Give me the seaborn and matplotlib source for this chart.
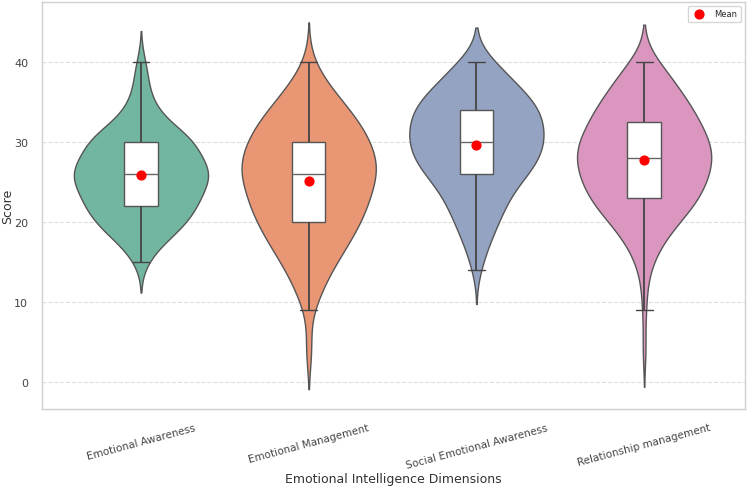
import numpy as np
import pandas as pd
import matplotlib
matplotlib.use("Agg")
import matplotlib.pyplot as plt
import seaborn as sns

categories = ["Emotional Awareness", "Emotional Management",
              "Social Emotional Awareness", "Relationship management"]

# score values and how many respondents got each score, per dimension
score_values = [4, 9, 10, 11, 12, 13, 14, 15, 16, 17, 18, 19, 20, 21, 22, 23,
                24, 25, 26, 27, 28, 29, 30, 31, 32, 33, 34, 35, 36, 37, 38, 39, 40]
emotional_awareness_counts = [0, 0, 0, 0, 0, 0, 0, 1, 2, 2, 4, 6, 7, 7, 8, 9,
                              8, 9, 12, 10, 8, 5, 12, 6, 4, 3, 2, 2, 1, 1, 1, 1, 1]
emotional_management_counts = [2, 1, 1, 2, 2, 3, 3, 4, 5, 6, 6, 7, 8, 8, 9, 9,
                               9, 9, 11, 11, 10, 9, 9, 9, 8, 7, 6, 5, 4, 3, 2, 1, 1]
social_emotional_awareness_counts = [0, 0, 0, 0, 0, 0, 1, 1, 1, 2, 2, 3, 3, 4, 4, 5,
                                     5, 6, 8, 9, 9, 10, 10, 10, 10, 9, 10, 9, 8, 5, 5, 4, 4]
relationship_management_counts = [1, 1, 0, 0, 1, 0, 1, 1, 2, 2, 3, 4, 5, 6, 7, 9,
                                  8, 9, 9, 10, 10, 10, 10, 9, 7, 8, 8, 6, 5, 5, 4, 3, 3]

y_ticks = [0, 10, 20, 30, 40]

counts = [emotional_awareness_counts, emotional_management_counts,
          social_emotional_awareness_counts, relationship_management_counts]
frames = []
for cat, c in zip(categories, counts):
    frames.append(pd.DataFrame({"Dimension": cat,
                                "Score": np.repeat(score_values, c).astype(float)}))
df = pd.concat(frames, ignore_index=True)

sns.set_theme(style="whitegrid")
fig, ax = plt.subplots(figsize=(7.5, 4.89), dpi=100)
fig.subplots_adjust(left=0.056, right=0.993, top=0.994, bottom=0.162)

sns.violinplot(data=df, x="Dimension", y="Score", hue="Dimension",
               palette="Set2", inner=None, density_norm="width",
               linewidth=1.0, linecolor="#555555", legend=False, ax=ax,
               order=categories, hue_order=categories)
sns.boxplot(data=df, x="Dimension", y="Score", width=0.2, showfliers=False,
            order=categories,
            boxprops=dict(facecolor="white", edgecolor="#555555", linewidth=1.0),
            whiskerprops=dict(color="#444444", linewidth=1.3),
            capprops=dict(color="#444444", linewidth=1.0),
            medianprops=dict(color="#666666", linewidth=1.0), ax=ax)

means = df.groupby("Dimension")["Score"].mean().reindex(categories)
ax.scatter(range(len(categories)), means.values, color="red", s=40,
           zorder=10, label="Mean")

ax.set_xlim(-0.59, 3.6)
ax.set_ylim(-3.4, 47.5)
ax.set_yticks(y_ticks)
ax.grid(axis="y", linestyle="--", color="#dddddd", linewidth=0.8)
ax.grid(axis="x", visible=False)
for s in ax.spines.values():
    s.set_color("#d0d0d0")
    s.set_linewidth(1.0)

ax.set_xlabel("Emotional Intelligence Dimensions", fontsize=9, color="#333333",
              labelpad=2)
ax.set_ylabel("Score", fontsize=9, color="#333333", labelpad=0)
ax.tick_params(axis="y", labelsize=8, colors="#444444", pad=4)
ax.tick_params(axis="x", labelsize=7.5, colors="#444444")
plt.setp(ax.get_xticklabels(), rotation=15)
ax.legend(loc="upper right", fontsize=6, frameon=True, markerscale=1.0)

fig.savefig("out.png", dpi=100)
